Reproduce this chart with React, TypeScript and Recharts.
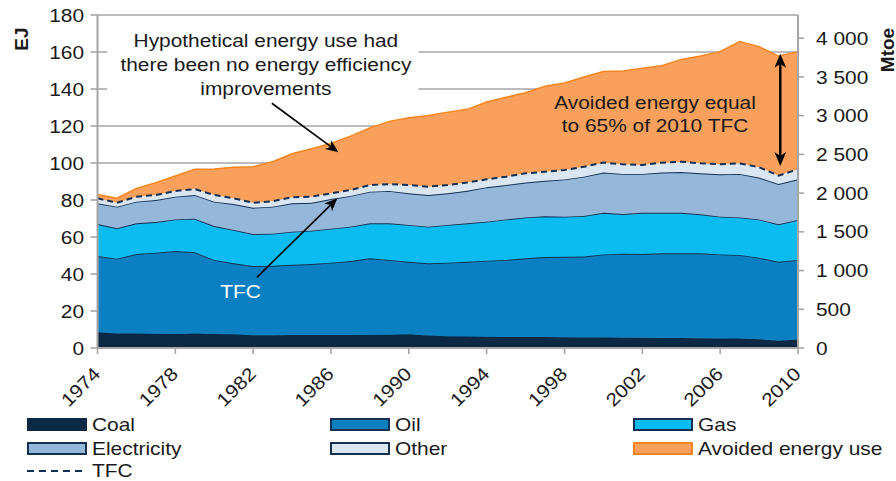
import React from 'react';
import {
  ComposedChart,
  Area,
  Line,
  XAxis,
  YAxis,
  CartesianGrid,
  ReferenceArea,
  ReferenceLine,
} from 'recharts';

// ---------- data (EJ) ----------
const years = [
  1974, 1975, 1976, 1977, 1978, 1979, 1980, 1981, 1982, 1983, 1984, 1985, 1986,
  1987, 1988, 1989, 1990, 1991, 1992, 1993, 1994, 1995, 1996, 1997, 1998, 1999,
  2000, 2001, 2002, 2003, 2004, 2005, 2006, 2007, 2008, 2009, 2010,
];
const coal = [
  8.5, 7.8, 7.8, 7.7, 7.6, 7.8, 7.6, 7.4, 6.9, 6.9, 7.0, 7.0, 7.0, 7.0, 7.1, 7.2,
  7.4, 6.8, 6.3, 6.2, 6.1, 6.0, 6.0, 5.9, 5.8, 5.7, 5.7, 5.6, 5.5, 5.4, 5.4, 5.3,
  5.2, 5.1, 4.7, 3.9, 4.6,
];
const oil = [
  41.2, 40.5, 43.0, 43.8, 44.8, 43.9, 40.0, 38.4, 37.4, 37.5, 38.0, 38.4, 39.1,
  40.0, 41.4, 40.4, 39.2, 39.0, 39.8, 40.4, 41.1, 41.6, 42.5, 43.3, 43.5, 43.7,
  44.9, 45.4, 45.3, 45.8, 45.8, 45.9, 45.4, 45.2, 44.1, 42.7, 43.0,
];
const gas = [
  17.3, 16.4, 16.6, 16.6, 17.1, 18.2, 18.3, 18.0, 17.3, 17.4, 17.9, 18.0, 18.4,
  18.6, 18.9, 19.8, 19.9, 19.8, 20.4, 20.8, 21.1, 21.9, 22.1, 22.0, 21.7, 22.0,
  22.5, 21.4, 22.3, 21.9, 21.9, 21.1, 20.4, 20.3, 20.7, 20.3, 21.6,
];
const electricity = [
  11.2, 11.7, 11.7, 11.9, 12.3, 12.8, 13.2, 14.0, 14.2, 14.6, 15.3, 15.1, 16.0,
  16.6, 17.1, 17.5, 17.1, 17.1, 17.1, 17.6, 18.6, 18.6, 18.8, 19.2, 20.1, 21.2,
  21.7, 21.7, 21.0, 21.7, 22.0, 22.1, 22.9, 23.5, 22.6, 21.7, 22.0,
];
const other = [
  2.7, 2.1, 2.7, 2.7, 3.1, 3.2, 3.6, 3.1, 2.7, 2.9, 3.3, 3.3, 3.1, 3.2, 3.6, 3.7,
  4.5, 4.5, 4.5, 4.4, 4.3, 4.5, 5.0, 4.9, 5.1, 5.4, 5.4, 5.2, 4.8, 5.4, 5.6, 5.4,
  5.4, 5.7, 5.6, 4.6, 5.4,
];
const avoided = [
  2.1, 2.5, 4.5, 6.7, 8.1, 10.7, 14.0, 16.8, 19.5, 21.4, 23.5, 25.9, 26.9, 29.1,
  30.9, 33.9, 36.4, 38.5, 39.4, 39.6, 41.8, 42.9, 43.6, 46.2, 47.1, 48.5, 49.2,
  50.4, 52.3, 52.4, 55.3, 58.0, 60.9, 65.8, 65.2, 64.6, 63.6,
];
const tfc = [
  80.9, 78.5, 81.8, 82.7, 84.9, 85.9, 82.7, 80.9, 78.5, 79.3, 81.5, 81.8, 83.6,
  85.4, 88.1, 88.6, 88.1, 87.2, 88.1, 89.4, 91.2, 92.6, 94.4, 95.3, 96.2, 98.0,
  100.2, 99.3, 98.9, 100.2, 100.7, 99.8, 99.3, 99.8, 97.7, 93.2, 96.6,
];

const xTicks = [1974, 1978, 1982, 1986, 1990, 1994, 1998, 2002, 2006, 2010];
const ejTicks = [0, 20, 40, 60, 80, 100, 120, 140, 160, 180];
const mtoeTicks = [0, 500, 1000, 1500, 2000, 2500, 3000, 3500, 4000];
const EJ_PER_MTOE = 0.041868;

const hypoText = [
  'Hypothetical energy use had',
  'there been no energy efficiency',
  'improvements',
];
const avoidedText = ['Avoided energy equal', 'to 65% of 2010 TFC'];

const data = years.map((year, i) => ({
  year,
  coal: coal[i],
  oil: oil[i],
  gas: gas[i],
  electricity: electricity[i],
  other: other[i],
  avoided: avoided[i],
  tfc: tfc[i],
}));

// ---------- styles ----------
const FONT = '"Liberation Sans", Arial, sans-serif';
const SX = 1.13;
const TEXT = '#1a1a1a';
const GRID = '#a6a6a6';
const C = {
  coal: '#0b2845',
  oil: '#0a80c2',
  gas: '#0cbcf0',
  electricity: '#95b7d9',
  other: '#dae6f2',
  avoided: '#f8a05c',
  avoidedLine: '#f5861f',
  line: '#142f52',
};

const legendItems = [
  { name: 'Coal', fill: C.coal, border: C.coal },
  { name: 'Oil', fill: C.oil, border: C.line },
  { name: 'Gas', fill: C.gas, border: C.line },
  { name: 'Electricity', fill: C.electricity, border: C.line },
  { name: 'Other', fill: C.other, border: C.line },
  { name: 'Avoided energy use', fill: C.avoided, border: C.avoidedLine },
];
const legendCols = [27, 330, 633];
const legendRows = [418, 442];

const fmtMtoe = (v: number) =>
  v >= 1000 ? `${Math.floor(v / 1000)} ${String(v % 1000).padStart(3, '0')}` : String(v);

const LeftTick = (p: any) => (
  <text
    transform={`translate(${p.x},${p.y}) scale(${SX},1)`}
    textAnchor="end"
    dy="0.36em"
    fontSize={18.5}
    fontFamily={FONT}
    fill={TEXT}
  >
    {p.payload.value}
  </text>
);

const RightTick = (p: any) => (
  <text
    transform={`translate(${p.x},${p.y}) scale(${SX},1)`}
    textAnchor="start"
    dy="0.36em"
    fontSize={18.5}
    fontFamily={FONT}
    fill={TEXT}
  >
    {fmtMtoe(p.payload.value)}
  </text>
);

const XTick = (p: any) => (
  <text
    transform={`translate(${p.x + 4},${p.y + 19}) rotate(-45) scale(${SX},1)`}
    textAnchor="end"
    fontSize={18.5}
    fontFamily={FONT}
    fill={TEXT}
  >
    {p.payload.value}
  </text>
);

function head(xa: number, ya: number, xb: number, yb: number, L: number) {
  const a = Math.atan2(yb - ya, xb - xa);
  const c = Math.cos(a);
  const s = Math.sin(a);
  const W = L * 0.42;
  const bx = xb - L * c;
  const by = yb - L * s;
  const nx = xb - L * 0.72 * c;
  const ny = yb - L * 0.72 * s;
  return {
    pts: `${xb},${yb} ${bx - W * s},${by + W * c} ${nx},${ny} ${bx + W * s},${by - W * c}`,
    nx,
    ny,
  };
}

const makeArrow = (sw: number, L: number, both: boolean) => (p: any) => {
  const { x1, y1, x2, y2 } = p;
  const h2 = head(x1, y1, x2, y2, L);
  const h1 = both ? head(x2, y2, x1, y1, L) : null;
  return (
    <g>
      <line
        x1={h1 ? h1.nx : x1}
        y1={h1 ? h1.ny : y1}
        x2={h2.nx}
        y2={h2.ny}
        stroke="#000"
        strokeWidth={sw}
      />
      <polygon points={h2.pts} fill="#000" />
      {h1 && <polygon points={h1.pts} fill="#000" />}
    </g>
  );
};

const HypoLabel = (p: any) => {
  const vb = p.viewBox;
  const cx = vb.x + vb.width / 2 + 3;
  return (
    <g>
      {hypoText.map((t, i) => (
        <text
          key={t}
          transform={`translate(${cx},${vb.y + 25 + i * 24}) scale(${SX},1)`}
          textAnchor="middle"
          fontSize={18.5}
          fontFamily={FONT}
          fill={TEXT}
        >
          {t}
        </text>
      ))}
    </g>
  );
};

const AvoidedLabel = (p: any) => {
  const vb = p.viewBox;
  const cx = vb.x + vb.width / 2;
  return (
    <g>
      {avoidedText.map((t, i) => (
        <text
          key={t}
          transform={`translate(${cx},${vb.y + 7 + i * 23.5}) scale(${SX},1)`}
          textAnchor="middle"
          fontSize={18.5}
          fontFamily={FONT}
          fill={TEXT}
        >
          {t}
        </text>
      ))}
    </g>
  );
};

const TfcLabel = (p: any) => {
  const vb = p.viewBox;
  return (
    <text
      transform={`translate(${vb.x + vb.width / 2},${vb.y + vb.height / 2}) scale(${SX},1)`}
      textAnchor="middle"
      dy="0.36em"
      fontSize={18.5}
      fontFamily={FONT}
      fill="#ffffff"
    >
      TFC
    </text>
  );
};

export default function App() {
  return (
    <div
      style={{
        position: 'absolute',
        left: 0,
        top: 0,
        width: 896,
        height: 481,
        background: '#fff',
        fontFamily: FONT,
        color: TEXT,
      }}
    >
      <ComposedChart
        width={896}
        height={481}
        data={data}
        margin={{ top: 15, right: 8, bottom: 73, left: 0 }}
      >
        <CartesianGrid
          yAxisId="ej"
          vertical={false}
          stroke={GRID}
          strokeWidth={1.6}
        />
        <XAxis
          dataKey="year"
          type="number"
          domain={[1974, 2010]}
          ticks={xTicks}
          interval={0}
          height={60}
          tickSize={6}
          tickMargin={2}
          axisLine={{ stroke: GRID, strokeWidth: 2 }}
          tickLine={{ stroke: GRID, strokeWidth: 1.6 }}
          tick={<XTick />}
        />
        <YAxis
          yAxisId="ej"
          domain={[0, 180]}
          ticks={ejTicks}
          interval={0}
          width={97.5}
          tickSize={7}
          tickMargin={6.5}
          axisLine={{ stroke: GRID, strokeWidth: 2 }}
          tickLine={{ stroke: GRID, strokeWidth: 1.6 }}
          tick={<LeftTick />}
        />
        <YAxis
          yAxisId="mtoe"
          orientation="right"
          type="number"
          domain={[0, 180 / EJ_PER_MTOE]}
          allowDataOverflow
          ticks={mtoeTicks}
          interval={0}
          width={90}
          tickSize={6}
          tickMargin={12}
          axisLine={{ stroke: GRID, strokeWidth: 2 }}
          tickLine={{ stroke: GRID, strokeWidth: 1.6 }}
          tick={<RightTick />}
        />

        <Area yAxisId="ej" type="linear" dataKey="coal" stackId="s" fill={C.coal} fillOpacity={1} stroke={C.coal} strokeWidth={1} isAnimationActive={false} />
        <Area yAxisId="ej" type="linear" dataKey="oil" stackId="s" fill={C.oil} fillOpacity={1} stroke={C.line} strokeWidth={1.8} isAnimationActive={false} />
        <Area yAxisId="ej" type="linear" dataKey="gas" stackId="s" fill={C.gas} fillOpacity={1} stroke={C.line} strokeWidth={1.8} isAnimationActive={false} />
        <Area yAxisId="ej" type="linear" dataKey="electricity" stackId="s" fill={C.electricity} fillOpacity={1} stroke={C.line} strokeWidth={1.8} isAnimationActive={false} />
        <Area yAxisId="ej" type="linear" dataKey="other" stackId="s" fill={C.other} fillOpacity={1} stroke="none" isAnimationActive={false} />
        <Area yAxisId="ej" type="linear" dataKey="avoided" stackId="s" fill={C.avoided} fillOpacity={1} stroke={C.avoidedLine} strokeWidth={1.5} isAnimationActive={false} />
        <Line yAxisId="ej" type="linear" dataKey="tfc" stroke={C.line} strokeWidth={2} strokeDasharray="6 4" dot={false} activeDot={false} isAnimationActive={false} />

        <ReferenceArea
          yAxisId="ej"
          x1={1974.5}
          x2={1990.5}
          y1={134}
          y2={176}
          fill="#ffffff"
          fillOpacity={1}
          stroke="none"
          label={(p: any) => <HypoLabel {...p} />}
        />
        <ReferenceArea
          yAxisId="ej"
          x1={2000}
          x2={2005.3}
          y1={125}
          y2={133}
          fill="none"
          stroke="none"
          label={(p: any) => <AvoidedLabel {...p} />}
        />
        <ReferenceArea
          yAxisId="ej"
          x1={1980.5}
          x2={1982.2}
          y1={27}
          y2={34}
          fill="none"
          stroke="none"
          label={(p: any) => <TfcLabel {...p} />}
        />
        <ReferenceLine
          yAxisId="ej"
          segment={[{ x: 1982.96, y: 132.3 }, { x: 1986.38, y: 105.8 }]}
          shape={makeArrow(1.6, 13, false)}
        />
        <ReferenceLine
          yAxisId="ej"
          segment={[{ x: 1982.19, y: 38.2 }, { x: 1986.33, y: 80.9 }]}
          shape={makeArrow(1.6, 13, false)}
        />
        <ReferenceLine
          yAxisId="ej"
          segment={[{ x: 2009.09, y: 159 }, { x: 2009.09, y: 98.4 }]}
          shape={makeArrow(2.4, 14, true)}
        />
      </ComposedChart>

      {/* axis titles */}
      <div
        style={{
          position: 'absolute',
          left: 21,
          top: 39,
          transform: 'translate(-50%,-50%) rotate(-90deg)',
          fontWeight: 'bold',
          fontSize: 19,
          lineHeight: 1,
          whiteSpace: 'nowrap',
        }}
      >
        EJ
      </div>
      <div
        style={{
          position: 'absolute',
          left: 887,
          top: 50,
          transform: 'translate(-50%,-50%) rotate(-90deg)',
          fontWeight: 'bold',
          fontSize: 19,
          lineHeight: 1,
          whiteSpace: 'nowrap',
        }}
      >
        Mtoe
      </div>

      {/* legend */}
      {legendItems.map((it, i) => {
        const left = legendCols[i % 3];
        const top = legendRows[Math.floor(i / 3)];
        return (
          <React.Fragment key={it.name}>
            <div
              style={{
                position: 'absolute',
                left,
                top,
                width: 60,
                height: 13,
                boxSizing: 'border-box',
                background: it.fill,
                border: `2px solid ${it.border}`,
              }}
            />
            <div
              style={{
                position: 'absolute',
                left: left + 65,
                top: top + 6.5,
                transform: `translateY(-50%) scaleX(${SX})`,
                transformOrigin: 'left center',
                fontSize: 18.5,
                lineHeight: 1,
                whiteSpace: 'nowrap',
              }}
            >
              {it.name}
            </div>
          </React.Fragment>
        );
      })}
      <svg
        style={{ position: 'absolute', left: 27, top: 466 }}
        width={60}
        height={10}
      >
        <line x1={0} y1={5} x2={56} y2={5} stroke={C.line} strokeWidth={2} strokeDasharray="7 5" />
      </svg>
      <div
        style={{
          position: 'absolute',
          left: 92,
          top: 471,
          transform: `translateY(-50%) scaleX(${SX})`,
          transformOrigin: 'left center',
          fontSize: 18.5,
          lineHeight: 1,
          whiteSpace: 'nowrap',
        }}
      >
        TFC
      </div>
    </div>
  );
}
